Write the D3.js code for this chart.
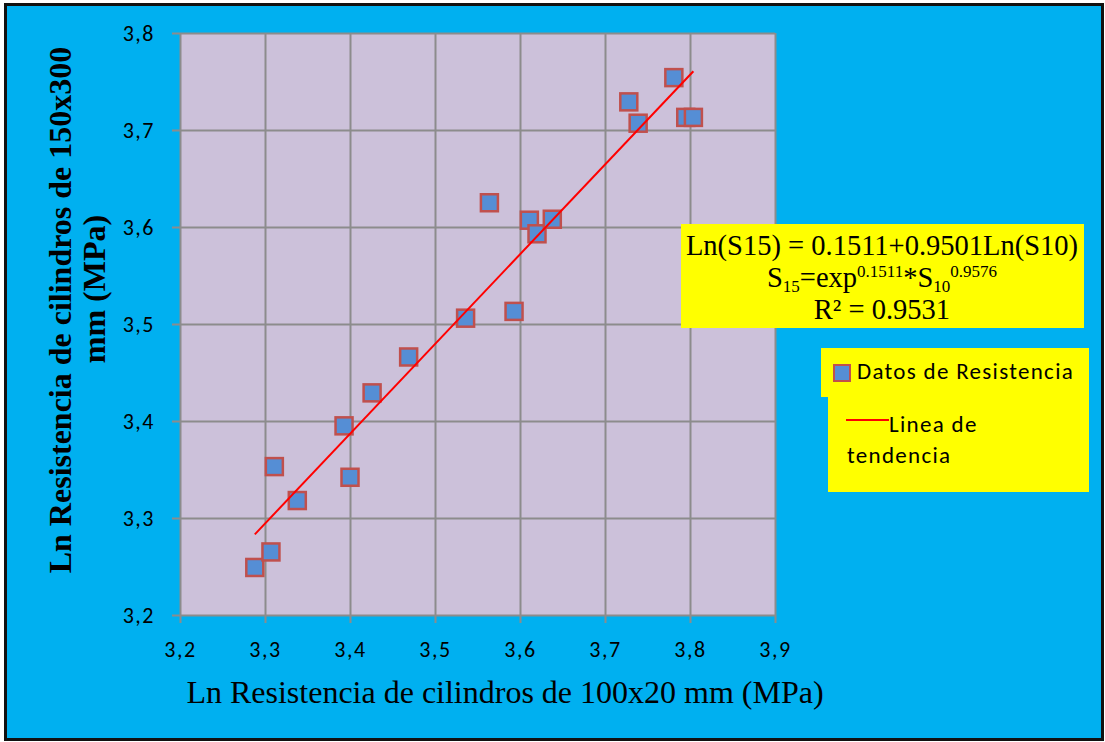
<!DOCTYPE html>
<html>
<head>
<meta charset="utf-8">
<script src="https://cdn.jsdelivr.net/npm/d3@7"></script>
<style>
  html, body { margin: 0; padding: 0; background: #fff; }
  svg { display: block; }
</style>
</head>
<body>
<svg id="chart" width="1105" height="742"></svg>
<script>
// Ln of cylinder strengths: 100x20 mm (x) against 150x300 mm (y)
const lnS10 = [3.288, 3.307, 3.311, 3.338, 3.393, 3.400, 3.426, 3.469, 3.536, 3.564,
               3.593, 3.611, 3.620, 3.638, 3.728, 3.739, 3.781, 3.795, 3.804];
const lnS15 = [3.249, 3.265, 3.353, 3.318, 3.395, 3.342, 3.429, 3.466, 3.506, 3.625,
               3.513, 3.607, 3.593, 3.608, 3.729, 3.707, 3.754, 3.713, 3.713];
const xTicks = [3.2, 3.3, 3.4, 3.5, 3.6, 3.7, 3.8, 3.9];
const yTicks = [3.2, 3.3, 3.4, 3.5, 3.6, 3.7, 3.8];

const svg = d3.select("#chart");
const W = 1105, H = 742;
const plot = { left: 180, top: 33, right: 775, bottom: 615 };
const sansFont = "Carlito, Calibri, 'Liberation Sans', Arial, sans-serif";
const serifFont = "'Liberation Serif', 'Times New Roman', serif";

// page background and frame
svg.append("rect").attr("x", 0).attr("y", 0).attr("width", W).attr("height", H).attr("fill", "#fff");
svg.append("rect").attr("x", 5.5).attr("y", 4.5).attr("width", 1097).attr("height", 735)
  .attr("fill", "#00B0F0").attr("stroke", "#111").attr("stroke-width", 3);

const x = d3.scaleLinear().domain([3.2, 3.9]).range([plot.left, plot.right]);
const y = d3.scaleLinear().domain([3.2, 3.8]).range([plot.bottom, plot.top]);

svg.append("rect").attr("x", plot.left).attr("y", plot.top)
  .attr("width", plot.right - plot.left).attr("height", plot.bottom - plot.top)
  .attr("fill", "#CCC1DA");

const fmt = d => d.toFixed(1).replace(".", ",");
const gridColor = "#8C8C8C";

// vertical gridlines + bottom axis
const gx = svg.append("g").attr("transform", `translate(0,${plot.bottom})`)
  .call(d3.axisBottom(x).tickValues(xTicks).tickFormat(fmt)
    .tickSizeInner(-(plot.bottom - plot.top)).tickSizeOuter(0).tickPadding(0));
gx.select(".domain").remove();
gx.selectAll(".tick line").attr("stroke", gridColor).attr("stroke-width", 2)
  .attr("y1", 8);
gx.selectAll(".tick text").attr("y", 42).attr("dy", 0)
  .attr("font-family", sansFont).attr("font-size", 22)
  .attr("letter-spacing", 1.5).attr("fill", "#000");

// horizontal gridlines + left axis
const gy = svg.append("g").attr("transform", `translate(${plot.left},0)`)
  .call(d3.axisLeft(y).tickValues(yTicks).tickFormat(fmt)
    .tickSizeInner(-(plot.right - plot.left)).tickSizeOuter(0).tickPadding(0));
gy.select(".domain").remove();
gy.selectAll(".tick line").attr("stroke", gridColor).attr("stroke-width", 2)
  .attr("x1", -8);
gy.selectAll(".tick text").attr("x", -25).attr("dy", "0.35em")
  .attr("font-family", sansFont).attr("font-size", 22)
  .attr("letter-spacing", 1.5).attr("fill", "#000");

// least-squares trend line over the range of the data
const n = lnS10.length;
const mx = d3.mean(lnS10), my = d3.mean(lnS15);
let sxy = 0, sxx = 0;
for (let i = 0; i < n; i++) {
  sxy += (lnS10[i] - mx) * (lnS15[i] - my);
  sxx += (lnS10[i] - mx) ** 2;
}
const slope = sxy / sxx, icpt = my - slope * mx;
const [xmin, xmax] = d3.extent(lnS10);

// markers
const pts = lnS10.map((v, i) => ({ x: v, y: lnS15[i] }));
const ms = 17;
svg.append("g").selectAll("rect").data(pts).join("rect")
  .attr("x", d => x(d.x) - ms / 2).attr("y", d => y(d.y) - ms / 2)
  .attr("width", ms).attr("height", ms)
  .attr("fill", "#558ED5").attr("stroke", "#C0504D").attr("stroke-width", 2.5);

svg.append("line")
  .attr("x1", x(xmin)).attr("y1", y(icpt + slope * xmin))
  .attr("x2", x(xmax)).attr("y2", y(icpt + slope * xmax))
  .attr("stroke", "#FF0000").attr("stroke-width", 2);

// axis titles
svg.append("text").attr("x", 505).attr("y", 703).attr("text-anchor", "middle")
  .attr("font-family", serifFont).attr("font-size", 32).attr("fill", "#000")
  .text("Ln Resistencia de cilindros de 100x20 mm (MPa)");

const yt = svg.append("text").attr("transform", "translate(71,310) rotate(-90)")
  .attr("text-anchor", "middle")
  .attr("font-family", serifFont).attr("font-weight", "bold")
  .attr("font-size", 32).attr("fill", "#000");
yt.append("tspan").attr("x", 0).attr("y", 0).text("Ln Resistencia de cilindros de 150x300");
yt.append("tspan").attr("x", 21).attr("y", 34).text("mm (MPa)");

// equation box
svg.append("rect").attr("x", 681).attr("y", 224).attr("width", 403).attr("height", 104)
  .attr("fill", "#FFFF00");
const eq = svg.append("g")
  .attr("font-family", serifFont).attr("fill", "#000").attr("text-anchor", "middle");
eq.append("text").attr("x", 882).attr("y", 255).attr("font-size", 28.5)
  .text("Ln(S15) = 0.1511+0.9501Ln(S10)");
const l2 = eq.append("text").attr("x", 882).attr("y", 287).attr("font-size", 28.5);
l2.append("tspan").text("S");
l2.append("tspan").attr("font-size", 17).attr("dy", 5).text("15");
l2.append("tspan").attr("dy", -5).text("=exp");
l2.append("tspan").attr("font-size", 17).attr("dy", -10).text("0.1511");
l2.append("tspan").attr("dy", 10).text("*S");
l2.append("tspan").attr("font-size", 17).attr("dy", 5).text("10");
l2.append("tspan").attr("font-size", 17).attr("dy", -15).text("0.9576");
eq.append("text").attr("x", 882).attr("y", 319).attr("font-size", 28.5)
  .text("R² = 0.9531");

// legend
const lg = svg.append("g");
lg.append("rect").attr("x", 821).attr("y", 348).attr("width", 268).attr("height", 49).attr("fill", "#FFFF00");
lg.append("rect").attr("x", 828).attr("y", 396).attr("width", 261).attr("height", 96).attr("fill", "#FFFF00");
lg.append("rect").attr("x", 834).attr("y", 365).attr("width", 16).attr("height", 16)
  .attr("fill", "#558ED5").attr("stroke", "#C0504D").attr("stroke-width", 2);
lg.append("text").attr("x", 857).attr("y", 379).attr("font-family", sansFont).attr("font-size", 23)
  .attr("letter-spacing", 1.3).attr("fill", "#000").text("Datos de Resistencia");
lg.append("line").attr("x1", 846).attr("x2", 889).attr("y1", 420).attr("y2", 420)
  .attr("stroke", "#FF0000").attr("stroke-width", 2);
lg.append("text").attr("x", 889).attr("y", 432).attr("font-family", sansFont).attr("font-size", 23)
  .attr("letter-spacing", 1.3).attr("fill", "#000").text("Linea de");
lg.append("text").attr("x", 847).attr("y", 463).attr("font-family", sansFont).attr("font-size", 23)
  .attr("letter-spacing", 1.3).attr("fill", "#000").text("tendencia");
</script>
</body>
</html>
